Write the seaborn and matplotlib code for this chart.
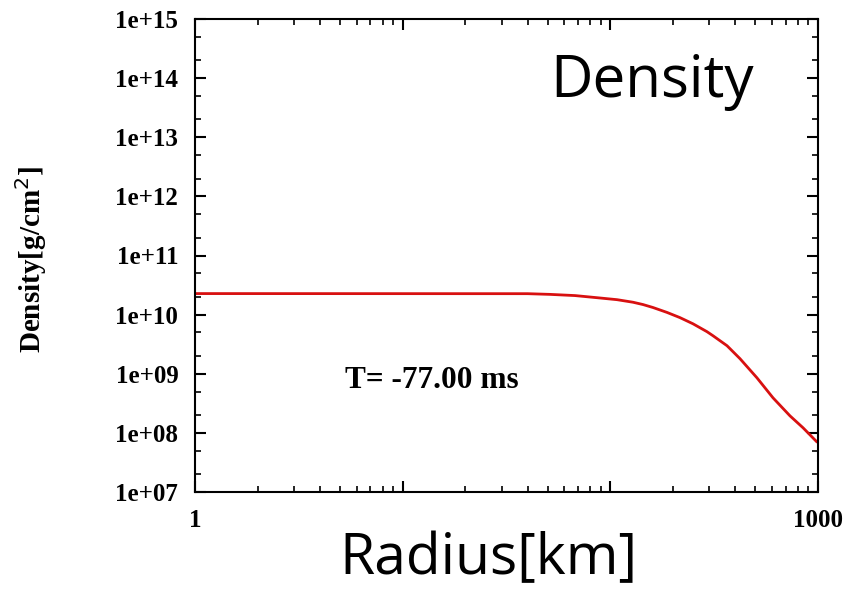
import numpy as np
import pandas as pd
import seaborn as sns
import matplotlib
matplotlib.use("Agg")
import matplotlib.pyplot as plt
from matplotlib.ticker import LogLocator, FixedLocator, FixedFormatter, NullFormatter

# Data
radius_km = [1, 40, 51.2, 67.6, 88, 107.7, 128.6, 143.7, 160.4, 187.4, 216.4, 250,
             291.9, 312, 364.6, 421, 508, 607, 733, 847, 925, 989]
density = [2.27e10, 2.26e10, 2.2e10, 2.1e10, 1.92e10, 1.79e10, 1.62e10, 1.48e10,
           1.32e10, 1.09e10, 8.9e9, 7.0e9, 5.15e9, 4.4e9, 2.98e9, 1.80e9, 8.55e8,
           3.92e8, 1.94e8, 1.22e8, 8.9e7, 7.0e7]
y_ticks = [1e7, 1e8, 1e9, 1e10, 1e11, 1e12, 1e13, 1e14, 1e15]
y_tick_labels = ["1e+07", "1e+08", "1e+09", "1e+10", "1e+11", "1e+12", "1e+13", "1e+14", "1e+15"]
x_ticks = [1, 10, 100, 1000]
x_tick_labels = ["1", "", "", "1000"]

df = pd.DataFrame({"radius": radius_km, "density": density})

sns.set_style("ticks")
plt.rcParams["font.family"] = ["Liberation Serif", "DejaVu Serif"]
plt.rcParams["text.color"] = "black"
plt.rcParams["xtick.color"] = "black"
plt.rcParams["ytick.color"] = "black"
plt.rcParams["xtick.labelcolor"] = "black"
plt.rcParams["ytick.labelcolor"] = "black"

fig = plt.figure(figsize=(8.56, 5.90), dpi=100)
ax = fig.add_axes([195/856, 1 - 492/590, (818-195)/856, (492-19)/590])

sns.lineplot(data=df, x="radius", y="density", ax=ax, color="#d81010", linewidth=2.0)

ax.set_xscale("log")
ax.set_yscale("log")
ax.set_xlim(1, 1000)
ax.set_ylim(1e7, 1e15)

ax.xaxis.set_major_locator(FixedLocator(x_ticks))
ax.xaxis.set_major_formatter(FixedFormatter(x_tick_labels))
ax.xaxis.set_minor_locator(LogLocator(base=10, subs=np.arange(2, 10), numticks=20))
ax.xaxis.set_minor_formatter(NullFormatter())
ax.yaxis.set_major_locator(FixedLocator(y_ticks))
ax.yaxis.set_major_formatter(FixedFormatter(y_tick_labels))
ax.yaxis.set_minor_locator(LogLocator(base=10, subs=(2, 5), numticks=20))
ax.yaxis.set_minor_formatter(NullFormatter())

ax.tick_params(which="both", direction="in", top=True, right=True, color="black",
               labelcolor="black")
ax.tick_params(which="major", length=8, width=1.5, labelsize=18, pad=12)
ax.tick_params(which="minor", length=4, width=1.2)
for lab in ax.get_xticklabels() + ax.get_yticklabels():
    lab.set_fontweight("bold")
for s in ax.spines.values():
    s.set_linewidth(1.5)
    s.set_color("black")

ax.set_xlabel("")
ax.set_ylabel("")

fig.text(345/856, 1 - 381/590, "T= -77.00 ms", fontsize=22.5, ha="left", va="center",
         fontweight="bold", color="black")

fig.text(31/856, 1 - 259/590, "Density[g/cm$^2$]", rotation=90, fontsize=21,
         fontweight="bold", ha="center", va="center", color="black")

fig.text(550/856, 1 - 97/590, "Density", fontsize=42, family=["Open Sans", "DejaVu Sans"],
         ha="left", va="baseline", color="black")
fig.text(488/856, 1 - 574/590, "Radius[km]", fontsize=41, family=["Open Sans", "DejaVu Sans"],
         ha="center", va="baseline", color="black")

fig.savefig("out.png", dpi=100, facecolor="white")
